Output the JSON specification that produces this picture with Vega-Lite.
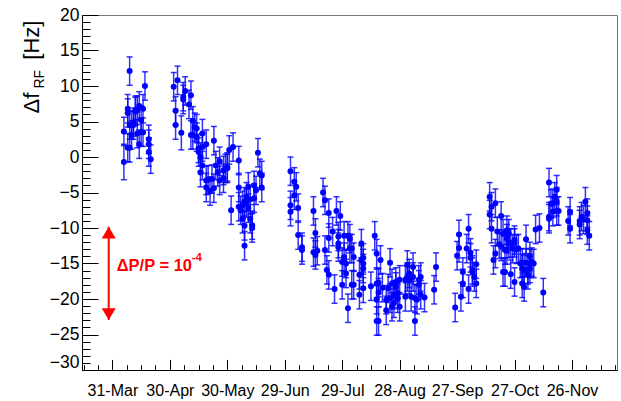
{
  "$schema": "https://vega.github.io/schema/vega-lite/v6.json",
  "width": 535,
  "height": 355,
  "autosize": {"type": "none"},
  "padding": {"left": 82, "top": 15, "right": 4, "bottom": 31},
  "background": "white",
  "config": {"view": {"stroke": "#777", "strokeWidth": 1}, "font": "Liberation Sans"},
  "datasets": {
    "pts": [
      {"d":"2017-04-06","v":3.6,"e":2},{"d":"2017-04-06","v":-0.7,"e":2.5},{"d":"2017-04-08","v":1.3,"e":2},{"d":"2017-04-08","v":6.2,"e":2},{"d":"2017-04-08","v":6.8,"e":2},
      {"d":"2017-04-09","v":4.5,"e":2},{"d":"2017-04-09","v":1.3,"e":2},{"d":"2017-04-09","v":12.1,"e":2},{"d":"2017-04-10","v":4.5,"e":2},{"d":"2017-04-10","v":3.1,"e":2},
      {"d":"2017-04-11","v":4.5,"e":2},{"d":"2017-04-11","v":4.9,"e":2},{"d":"2017-04-12","v":6.4,"e":2},{"d":"2017-04-12","v":6.6,"e":2},{"d":"2017-04-13","v":3.3,"e":2},
      {"d":"2017-04-13","v":6.6,"e":2},{"d":"2017-04-14","v":7.2,"e":2},{"d":"2017-04-14","v":1.8,"e":2},{"d":"2017-04-15","v":5.2,"e":2},{"d":"2017-04-15","v":3.5,"e":2},
      {"d":"2017-04-16","v":3.5,"e":2},{"d":"2017-04-16","v":6.8,"e":2},{"d":"2017-04-17","v":10.0,"e":2},{"d":"2017-04-19","v":2.5,"e":2},{"d":"2017-04-19","v":1.8,"e":2},
      {"d":"2017-04-19","v":0.7,"e":2},{"d":"2017-04-20","v":-0.3,"e":2},
      {"d":"2017-05-02","v":9.9,"e":2},{"d":"2017-05-03","v":4.5,"e":2},{"d":"2017-05-03","v":6.5,"e":2},{"d":"2017-05-04","v":10.8,"e":2},{"d":"2017-05-06","v":3.4,"e":2.4},
      {"d":"2017-05-07","v":8.1,"e":2},{"d":"2017-05-07","v":8.5,"e":2},{"d":"2017-05-08","v":9.3,"e":2},{"d":"2017-05-10","v":7.4,"e":2},{"d":"2017-05-11","v":3.1,"e":2},
      {"d":"2017-05-11","v":8.7,"e":2},{"d":"2017-05-12","v":3.1,"e":2},{"d":"2017-05-12","v":5.1,"e":2},{"d":"2017-05-13","v":4.2,"e":2},{"d":"2017-05-14","v":4.0,"e":2},
      {"d":"2017-05-14","v":2.8,"e":2},{"d":"2017-05-15","v":1.2,"e":2},{"d":"2017-05-15","v":0.7,"e":2},{"d":"2017-05-16","v":0.0,"e":2},{"d":"2017-05-16","v":-2.2,"e":2},
      {"d":"2017-05-17","v":-1.2,"e":2},{"d":"2017-05-17","v":1.4,"e":2},{"d":"2017-05-17","v":3.3,"e":2},{"d":"2017-05-19","v":-3.3,"e":2},{"d":"2017-05-19","v":1.8,"e":2},
      {"d":"2017-05-19","v":-4.3,"e":2},{"d":"2017-05-20","v":-3.2,"e":2},{"d":"2017-05-21","v":-4.8,"e":2},{"d":"2017-05-22","v":-3.1,"e":2},{"d":"2017-05-23","v":2.3,"e":2},
      {"d":"2017-05-23","v":-4.4,"e":2},{"d":"2017-05-24","v":-1.2,"e":2},{"d":"2017-05-25","v":-2.1,"e":2},{"d":"2017-05-26","v":-0.6,"e":2},{"d":"2017-05-26","v":-3.3,"e":2},
      {"d":"2017-05-28","v":-1.9,"e":2},{"d":"2017-05-28","v":-3.0,"e":2},{"d":"2017-05-29","v":-1.6,"e":2},{"d":"2017-05-30","v":-1.4,"e":2},{"d":"2017-05-30","v":-1.6,"e":2},
      {"d":"2017-05-31","v":1.0,"e":2},{"d":"2017-06-01","v":-7.5,"e":2},{"d":"2017-06-02","v":1.4,"e":2},{"d":"2017-06-05","v":-7.0,"e":2},{"d":"2017-06-05","v":-0.5,"e":2},
      {"d":"2017-06-05","v":-4.3,"e":2},{"d":"2017-06-06","v":-7.5,"e":2},{"d":"2017-06-07","v":-8.7,"e":2},{"d":"2017-06-07","v":-6.8,"e":2},{"d":"2017-06-08","v":-9.7,"e":2},
      {"d":"2017-06-08","v":-12.5,"e":2},{"d":"2017-06-08","v":-6.3,"e":2},{"d":"2017-06-09","v":-6.5,"e":2},{"d":"2017-06-09","v":-5.6,"e":2},{"d":"2017-06-10","v":-4.2,"e":2},
      {"d":"2017-06-10","v":-7.2,"e":2},{"d":"2017-06-11","v":-8.7,"e":2},{"d":"2017-06-11","v":-6.0,"e":2},{"d":"2017-06-12","v":-9.6,"e":2},{"d":"2017-06-12","v":-10.0,"e":2},
      {"d":"2017-06-13","v":-5.8,"e":2},{"d":"2017-06-13","v":-4.0,"e":2},{"d":"2017-06-14","v":-4.7,"e":2},{"d":"2017-06-15","v":0.6,"e":2},{"d":"2017-06-16","v":-2.3,"e":2},
      {"d":"2017-06-17","v":-2.6,"e":2},{"d":"2017-06-17","v":-4.3,"e":2},
      {"d":"2017-07-02","v":-2.0,"e":2},{"d":"2017-07-02","v":-6.8,"e":2},{"d":"2017-07-02","v":-7.7,"e":2},{"d":"2017-07-04","v":-3.5,"e":2},{"d":"2017-07-04","v":-5.4,"e":2},
      {"d":"2017-07-05","v":-4.2,"e":2},{"d":"2017-07-06","v":-7.2,"e":2},{"d":"2017-07-06","v":-11.0,"e":2},{"d":"2017-07-08","v":-13.1,"e":2},{"d":"2017-07-08","v":-12.7,"e":2},
      {"d":"2017-07-14","v":-7.6,"e":2},{"d":"2017-07-14","v":-13.4,"e":2},{"d":"2017-07-15","v":-10.7,"e":2},{"d":"2017-07-15","v":-13.8,"e":2},{"d":"2017-07-16","v":-13.2,"e":2},
      {"d":"2017-07-19","v":-5.0,"e":2},{"d":"2017-07-20","v":-6.1,"e":2},{"d":"2017-07-20","v":-13.1,"e":2},{"d":"2017-07-21","v":-15.9,"e":2},{"d":"2017-07-22","v":-11.4,"e":2},
      {"d":"2017-07-22","v":-7.9,"e":2},{"d":"2017-07-22","v":-16.6,"e":2},{"d":"2017-07-24","v":-10.5,"e":2},{"d":"2017-07-25","v":-18.6,"e":2},{"d":"2017-07-26","v":-7.6,"e":2},
      {"d":"2017-07-27","v":-11.2,"e":2},{"d":"2017-07-27","v":-12.2,"e":2},{"d":"2017-07-27","v":-12.7,"e":2},{"d":"2017-07-28","v":-8.3,"e":2},{"d":"2017-07-29","v":-18.0,"e":2},
      {"d":"2017-07-29","v":-14.8,"e":2},{"d":"2017-07-30","v":-14.1,"e":2},{"d":"2017-07-30","v":-11.1,"e":2},{"d":"2017-07-31","v":-16.4,"e":2},{"d":"2017-07-31","v":-15.0,"e":2},
      {"d":"2017-08-01","v":-11.1,"e":2},{"d":"2017-08-01","v":-21.3,"e":2},{"d":"2017-08-02","v":-12.9,"e":2},{"d":"2017-08-02","v":-11.5,"e":2},{"d":"2017-08-03","v":-18.0,"e":2},
      {"d":"2017-08-03","v":-12.9,"e":2},{"d":"2017-08-04","v":-14.1,"e":2},{"d":"2017-08-04","v":-18.0,"e":2},{"d":"2017-08-07","v":-19.4,"e":2},{"d":"2017-08-07","v":-16.6,"e":2},
      {"d":"2017-08-08","v":-12.2,"e":2},{"d":"2017-08-08","v":-14.5,"e":2},{"d":"2017-08-09","v":-15.7,"e":2},{"d":"2017-08-09","v":-18.5,"e":2},{"d":"2017-08-09","v":-15.0,"e":2},
      {"d":"2017-08-09","v":-14.2,"e":2},{"d":"2017-08-13","v":-18.2,"e":2},{"d":"2017-08-15","v":-11.1,"e":2},{"d":"2017-08-16","v":-13.6,"e":2},{"d":"2017-08-16","v":-17.8,"e":2},
      {"d":"2017-08-16","v":-20.1,"e":2},{"d":"2017-08-16","v":-23.1,"e":2},{"d":"2017-08-17","v":-23.1,"e":2},{"d":"2017-08-17","v":-19.1,"e":2},{"d":"2017-08-17","v":-17.7,"e":2},
      {"d":"2017-08-18","v":-14.5,"e":2},{"d":"2017-08-19","v":-18.4,"e":2},{"d":"2017-08-21","v":-21.6,"e":2},{"d":"2017-08-21","v":-20.1,"e":2},{"d":"2017-08-22","v":-18.5,"e":2},
      {"d":"2017-08-23","v":-14.9,"e":2},{"d":"2017-08-23","v":-19.9,"e":2},{"d":"2017-08-24","v":-21.1,"e":2},{"d":"2017-08-24","v":-17.8,"e":2},{"d":"2017-08-25","v":-19.4,"e":2},
      {"d":"2017-08-25","v":-20.6,"e":2},{"d":"2017-08-26","v":-18.3,"e":2},{"d":"2017-08-26","v":-17.6,"e":2},{"d":"2017-08-27","v":-19.9,"e":2},{"d":"2017-08-27","v":-19.2,"e":2},
      {"d":"2017-08-28","v":-21.1,"e":2},{"d":"2017-08-28","v":-17.3,"e":2},{"d":"2017-08-31","v":-17.3,"e":2},{"d":"2017-08-31","v":-19.7,"e":2},{"d":"2017-09-01","v":-15.2,"e":2},
      {"d":"2017-09-01","v":-16.9,"e":2},{"d":"2017-09-02","v":-16.4,"e":2},{"d":"2017-09-02","v":-17.3,"e":2},{"d":"2017-09-03","v":-19.7,"e":2},{"d":"2017-09-04","v":-16.9,"e":2},
      {"d":"2017-09-04","v":-15.5,"e":2},{"d":"2017-09-05","v":-19.9,"e":2},{"d":"2017-09-05","v":-23.1,"e":2},{"d":"2017-09-06","v":-20.1,"e":2},{"d":"2017-09-07","v":-18.0,"e":2},
      {"d":"2017-09-07","v":-17.3,"e":2},{"d":"2017-09-08","v":-19.4,"e":2},{"d":"2017-09-08","v":-16.9,"e":2},{"d":"2017-09-10","v":-19.8,"e":2},{"d":"2017-09-15","v":-18.7,"e":2},
      {"d":"2017-09-16","v":-15.5,"e":2},
      {"d":"2017-09-26","v":-21.2,"e":2},{"d":"2017-09-27","v":-13.9,"e":2},{"d":"2017-09-28","v":-10.9,"e":2},{"d":"2017-09-28","v":-12.8,"e":2},{"d":"2017-09-29","v":-19.7,"e":2},
      {"d":"2017-09-30","v":-16.2,"e":2},{"d":"2017-09-30","v":-17.8,"e":2},{"d":"2017-10-02","v":-12.9,"e":2},{"d":"2017-10-03","v":-10.1,"e":2},{"d":"2017-10-03","v":-18.6,"e":2},
      {"d":"2017-10-04","v":-14.2,"e":2},{"d":"2017-10-04","v":-13.5,"e":2},{"d":"2017-10-05","v":-15.9,"e":2},{"d":"2017-10-05","v":-16.2,"e":2},{"d":"2017-10-06","v":-16.9,"e":2},
      {"d":"2017-10-07","v":-15.1,"e":2},{"d":"2017-10-07","v":-17.8,"e":2},{"d":"2017-10-14","v":-5.6,"e":2},{"d":"2017-10-14","v":-8.1,"e":2},{"d":"2017-10-15","v":-7.0,"e":2},
      {"d":"2017-10-15","v":-10.1,"e":2},{"d":"2017-10-16","v":-14.5,"e":2},{"d":"2017-10-17","v":-6.5,"e":2},{"d":"2017-10-17","v":-13.6,"e":2},{"d":"2017-10-18","v":-10.5,"e":2},
      {"d":"2017-10-19","v":-12.3,"e":2},{"d":"2017-10-20","v":-8.3,"e":2},{"d":"2017-10-20","v":-12.6,"e":2},{"d":"2017-10-21","v":-16.2,"e":2},{"d":"2017-10-21","v":-10.8,"e":2},
      {"d":"2017-10-22","v":-13.1,"e":2},{"d":"2017-10-22","v":-16.2,"e":2},{"d":"2017-10-23","v":-10.3,"e":2},{"d":"2017-10-23","v":-11.5,"e":2},{"d":"2017-10-23","v":-13.1,"e":2},
      {"d":"2017-10-24","v":-12.2,"e":2},{"d":"2017-10-24","v":-10.8,"e":2},{"d":"2017-10-25","v":-12.1,"e":2},{"d":"2017-10-25","v":-16.5,"e":2},{"d":"2017-10-26","v":-12.9,"e":2},
      {"d":"2017-10-27","v":-12.1,"e":2},{"d":"2017-10-27","v":-17.6,"e":2},{"d":"2017-10-27","v":-11.7,"e":2},{"d":"2017-10-28","v":-13.0,"e":2},{"d":"2017-10-29","v":-12.9,"e":2},
      {"d":"2017-10-30","v":-15.0,"e":2},{"d":"2017-10-31","v":-14.9,"e":2},{"d":"2017-10-31","v":-17.8,"e":2},{"d":"2017-10-31","v":-15.7,"e":2},{"d":"2017-11-01","v":-18.3,"e":2},
      {"d":"2017-11-01","v":-15.8,"e":2},{"d":"2017-11-02","v":-14.9,"e":2},{"d":"2017-11-02","v":-11.6,"e":2},{"d":"2017-11-03","v":-15.9,"e":2},{"d":"2017-11-03","v":-16.6,"e":2},
      {"d":"2017-11-04","v":-15.7,"e":2},{"d":"2017-11-04","v":-15.0,"e":2},{"d":"2017-11-04","v":-14.0,"e":2},{"d":"2017-11-05","v":-14.8,"e":2},{"d":"2017-11-06","v":-15.0,"e":2},
      {"d":"2017-11-07","v":-10.2,"e":2},{"d":"2017-11-09","v":-10.0,"e":2},{"d":"2017-11-11","v":-19.1,"e":2},{"d":"2017-11-14","v":-8.7,"e":2},{"d":"2017-11-14","v":-8.4,"e":2},
      {"d":"2017-11-14","v":-3.6,"e":2},{"d":"2017-11-15","v":-6.6,"e":2},{"d":"2017-11-16","v":-7.7,"e":2},{"d":"2017-11-16","v":-6.5,"e":2},{"d":"2017-11-17","v":-5.6,"e":2},
      {"d":"2017-11-18","v":-4.6,"e":2},{"d":"2017-11-18","v":-7.6,"e":2},{"d":"2017-11-18","v":-6.3,"e":2},{"d":"2017-11-19","v":-7.6,"e":2},{"d":"2017-11-24","v":-9.0,"e":2},
      {"d":"2017-11-25","v":-10.1,"e":2},{"d":"2017-11-25","v":-7.7,"e":2},{"d":"2017-11-30","v":-9.5,"e":2},{"d":"2017-11-30","v":-9.0,"e":2},{"d":"2017-12-01","v":-8.4,"e":2},
      {"d":"2017-12-02","v":-8.8,"e":2},{"d":"2017-12-03","v":-6.3,"e":2},{"d":"2017-12-04","v":-7.9,"e":2},{"d":"2017-12-04","v":-8.9,"e":2},{"d":"2017-12-04","v":-10.3,"e":2},
      {"d":"2017-12-05","v":-11.1,"e":2}
    ],
    "arrow": [{"d":"2017-03-29T02:00:00Z","top":-9.83,"bottom":-22.96}],
    "heads": [{"d":"2017-03-29T02:00:00Z","v":-9.83,"dir":"up"},{"d":"2017-03-29T02:00:00Z","v":-22.96,"dir":"down"}],
    "label": [{"d":"2017-04-02T06:00:00Z","v":-15.3,"t":"ΔP/P = 10","s":"-4"}]
  },
  "layer": [
    {
      "data": {"name": "pts"},
      "mark": {"type": "errorbar", "ticks": {"size": 6}, "color": "#0000ff", "opacity": 0.8, "thickness": 1.5},
      "encoding": {
        "x": {"field": "d", "type": "temporal", "axis": null,
              "scale": {"nice": false, "domain": [{"year":2017,"month":3,"date":15,"hours":3,"utc":true},{"year":2017,"month":12,"date":19,"hours":12,"utc":true}]}},
        "y": {"field": "v", "type": "quantitative", "axis": null, "scale": {"domain": [-30, 20], "nice": false, "zero": false}},
        "yError": {"field": "e"}
      }
    },
    {
      "data": {"name": "pts"},
      "mark": {"type": "point", "filled": true, "shape": "circle", "size": 36, "color": "#0000ff", "opacity": 1},
      "encoding": {
        "x": {"field": "d", "type": "temporal",
              "scale": {"nice": false, "domain": [{"year":2017,"month":3,"date":15,"hours":3,"utc":true},{"year":2017,"month":12,"date":19,"hours":12,"utc":true}]},
              "axis": {
                "title": null, "grid": false, "orient": "bottom",
                "values": [
                  {"year":2017,"month":3,"date":16,"utc":true},{"year":2017,"month":3,"date":23,"hours":12,"utc":true},{"year":2017,"month":3,"date":31,"utc":true},
                  {"year":2017,"month":4,"date":7,"hours":12,"utc":true},{"year":2017,"month":4,"date":15,"utc":true},{"year":2017,"month":4,"date":22,"hours":12,"utc":true},{"year":2017,"month":4,"date":30,"utc":true},
                  {"year":2017,"month":5,"date":7,"hours":12,"utc":true},{"year":2017,"month":5,"date":15,"utc":true},{"year":2017,"month":5,"date":22,"hours":12,"utc":true},{"year":2017,"month":5,"date":30,"utc":true},
                  {"year":2017,"month":6,"date":6,"hours":12,"utc":true},{"year":2017,"month":6,"date":14,"utc":true},{"year":2017,"month":6,"date":21,"hours":12,"utc":true},{"year":2017,"month":6,"date":29,"utc":true},
                  {"year":2017,"month":7,"date":6,"hours":12,"utc":true},{"year":2017,"month":7,"date":14,"utc":true},{"year":2017,"month":7,"date":21,"hours":12,"utc":true},{"year":2017,"month":7,"date":29,"utc":true},
                  {"year":2017,"month":8,"date":5,"hours":12,"utc":true},{"year":2017,"month":8,"date":13,"utc":true},{"year":2017,"month":8,"date":20,"hours":12,"utc":true},{"year":2017,"month":8,"date":28,"utc":true},
                  {"year":2017,"month":9,"date":4,"hours":12,"utc":true},{"year":2017,"month":9,"date":12,"utc":true},{"year":2017,"month":9,"date":19,"hours":12,"utc":true},{"year":2017,"month":9,"date":27,"utc":true},
                  {"year":2017,"month":10,"date":4,"hours":12,"utc":true},{"year":2017,"month":10,"date":12,"utc":true},{"year":2017,"month":10,"date":19,"hours":12,"utc":true},{"year":2017,"month":10,"date":27,"utc":true},
                  {"year":2017,"month":11,"date":3,"hours":12,"utc":true},{"year":2017,"month":11,"date":11,"utc":true},{"year":2017,"month":11,"date":18,"hours":12,"utc":true},{"year":2017,"month":11,"date":26,"utc":true},
                  {"year":2017,"month":12,"date":3,"hours":12,"utc":true},{"year":2017,"month":12,"date":11,"utc":true},{"year":2017,"month":12,"date":18,"hours":12,"utc":true}
                ],
                "labelExpr": "abs((+datum.value - 1490918400000) % 2592000000) < 60000 ? utcFormat(datum.value, '%d-%b') : ''",
                "tickSize": {"condition": {"test": "abs((+datum.value - 1490918400000) % 2592000000) < 60000", "value": -10.6}, "value": -5.3},
                "tickColor": "#000", "tickWidth": 1, "domainColor": "#000", "domainWidth": 1,
                "labelFont": "Liberation Sans", "labelFontSize": 16, "labelColor": "#000", "labelPadding": 23,
                "labelOverlap": false, "labelFlush": false, "labelBound": false
              }},
        "y": {"field": "v", "type": "quantitative",
              "scale": {"domain": [-30, 20], "nice": false, "zero": false},
              "axis": {
                "orient": "left", "grid": false,
                "values": [-30,-29,-28,-27,-26,-25,-24,-23,-22,-21,-20,-19,-18,-17,-16,-15,-14,-13,-12,-11,-10,-9,-8,-7,-6,-5,-4,-3,-2,-1,0,1,2,3,4,5,6,7,8,9,10,11,12,13,14,15,16,17,18,19,20],
                "labelExpr": "datum.value % 5 == 0 ? (datum.value < 0 ? '\u2212' + abs(datum.value) : '' + datum.value) : ''",
                "tickSize": {"condition": {"test": "datum.value % 5 == 0", "value": -16}, "value": -8},
                "labelOffset": {"condition": {"test": "datum.value == -30", "value": -8}, "value": 0},
                "tickColor": "#000", "tickWidth": 1, "domainColor": "#000", "domainWidth": 1,
                "labelFont": "Liberation Sans", "labelFontSize": 17.5, "labelColor": "#000", "labelPadding": 19,
                "labelOverlap": false, "labelFlush": false, "labelBound": false,
                "title": "[Hz]", "titleFont": "Liberation Sans", "titleFontSize": 22, "titleFontWeight": "normal", "titleColor": "#000",
                "titleAngle": 270, "titleAlign": "right", "titleBaseline": "alphabetic", "titleX": -44, "titleY": 5
              }}
      }
    },
    {
      "data": {"name": "arrow"},
      "mark": {"type": "rule", "color": "#ff0000", "strokeWidth": 2},
      "encoding": {
        "x": {"field": "d", "type": "temporal", "axis": null,
              "scale": {"nice": false, "domain": [{"year":2017,"month":3,"date":15,"hours":3,"utc":true},{"year":2017,"month":12,"date":19,"hours":12,"utc":true}]}},
        "y": {"field": "top", "type": "quantitative", "scale": {"domain": [-30, 20], "nice": false, "zero": false},
              "axis": {"orient": "left", "ticks": false, "labels": false, "domain": false, "grid": false,
                       "title": "Δf", "titleFont": "Liberation Sans", "titleFontSize": 22, "titleFontWeight": "normal", "titleColor": "#000",
                       "titleAngle": 270, "titleAlign": "left", "titleBaseline": "alphabetic", "titleX": -44, "titleY": 98}},
        "y2": {"field": "bottom"}
      }
    },
    {
      "data": {"name": "heads"},
      "mark": {"type": "point", "filled": true, "size": 196, "color": "#ff0000", "opacity": 1, "strokeWidth": 0},
      "encoding": {
        "x": {"field": "d", "type": "temporal", "axis": null,
              "scale": {"nice": false, "domain": [{"year":2017,"month":3,"date":15,"hours":3,"utc":true},{"year":2017,"month":12,"date":19,"hours":12,"utc":true}]}},
        "y": {"field": "v", "type": "quantitative", "scale": {"domain": [-30, 20], "nice": false, "zero": false},
              "axis": {"orient": "left", "ticks": false, "labels": false, "domain": false, "grid": false,
                       "title": "RF", "titleFont": "Liberation Sans", "titleFontSize": 14, "titleFontWeight": "normal", "titleColor": "#000",
                       "titleAngle": 270, "titleAlign": "left", "titleBaseline": "alphabetic", "titleX": -39, "titleY": 73}},
        "shape": {"field": "dir", "type": "nominal", "legend": null,
                  "scale": {"domain": ["up", "down"], "range": ["M0,0L1,1.67L-1,1.67Z", "M0,0L1,-1.67L-1,-1.67Z"]}}
      }
    },
    {
      "data": {"name": "label"},
      "mark": {"type": "text", "align": "left", "baseline": "middle", "color": "#ff0000", "font": "Liberation Sans", "fontWeight": "bold", "fontSize": 16.5},
      "encoding": {
        "x": {"field": "d", "type": "temporal", "axis": null,
              "scale": {"nice": false, "domain": [{"year":2017,"month":3,"date":15,"hours":3,"utc":true},{"year":2017,"month":12,"date":19,"hours":12,"utc":true}]}},
        "y": {"field": "v", "type": "quantitative", "axis": null, "scale": {"domain": [-30, 20], "nice": false, "zero": false}},
        "text": {"field": "t"}
      }
    },
    {
      "data": {"name": "label"},
      "mark": {"type": "text", "align": "left", "baseline": "middle", "color": "#ff0000", "font": "Liberation Sans", "fontWeight": "bold", "fontSize": 11.5, "dx": 75, "dy": -8},
      "encoding": {
        "x": {"field": "d", "type": "temporal", "axis": null,
              "scale": {"nice": false, "domain": [{"year":2017,"month":3,"date":15,"hours":3,"utc":true},{"year":2017,"month":12,"date":19,"hours":12,"utc":true}]}},
        "y": {"field": "v", "type": "quantitative", "axis": null, "scale": {"domain": [-30, 20], "nice": false, "zero": false}},
        "text": {"field": "s"}
      }
    }
  ],
  "resolve": {"axis": {"x": "independent", "y": "independent"}}
}
